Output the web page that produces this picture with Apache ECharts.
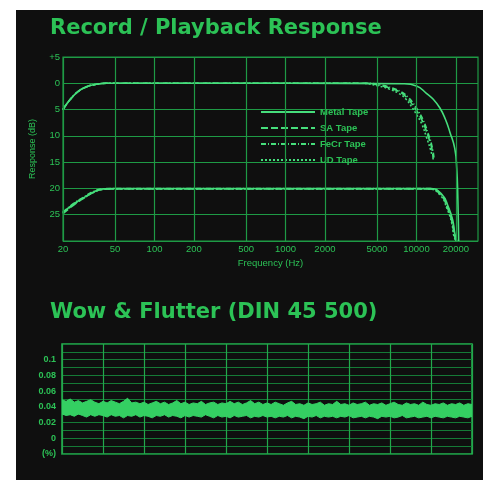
<!DOCTYPE html>
<html>
<head>
<meta charset="utf-8">
<title>Record / Playback Response</title>
<script src="https://cdn.jsdelivr.net/npm/echarts@6.0.0/dist/echarts.min.js"></script>
<style>
  html, body { margin: 0; padding: 0; background: #ffffff; }
  /* black card of the scanned page */
  #panel { position: absolute; left: 16px; top: 10px; width: 467px; height: 470px; background: #0f0f0f; }
  #chart { position: absolute; left: 0; top: 0; width: 483px; height: 480px; }
</style>
</head>
<body>
<div id="panel"></div>
<div id="chart"></div>
<script>
// frequency ticks of the response chart (Hz)
const freqTicks = [20, 50, 100, 200, 500, 1000, 2000, 5000, 10000, 20000];
const tapeNames = ["Metal Tape", "SA Tape", "FeCr Tape", "UD Tape"];

// 0 dB record level
const metalFreq = [20, 22.5, 26, 30, 36, 43, 60, 1000, 8000, 10000, 11900, 13500, 15100, 16600, 18000, 19600, 20300, 20700, 21000];
const metalDb = [-5, -3.2, -1.6, -0.7, -0.2, 0, 0, 0, -0.1, -0.5, -1.9, -3.1, -4.7, -6.8, -9.3, -12.4, -16.2, -22, -30];
const saFreq = [20, 22.5, 26, 30, 36, 43, 60, 1000, 4000, 5300, 6400, 7500, 8500, 9400, 10300, 11200, 12200, 13100, 13400];
const saDb = [-5, -3.2, -1.6, -0.7, -0.2, 0, 0, 0, 0, -0.4, -1.0, -1.7, -2.8, -4.2, -5.7, -7.4, -9.9, -12.4, -14.5];
const feCrFreq = [20, 22.5, 26, 30, 36, 43, 60, 1000, 4200, 5500, 6500, 7600, 8600, 9500, 10400, 11300, 12300, 13200, 13600];
const feCrDb = [-5, -3.2, -1.6, -0.7, -0.2, 0, 0, 0, 0, -0.4, -0.9, -1.6, -2.6, -3.9, -5.4, -7.1, -9.6, -12.2, -14.2];
const udFreq = [20, 22.5, 26, 30, 36, 43, 60, 1000, 3800, 5100, 6200, 7300, 8300, 9200, 10100, 11000, 11900, 12800, 13100];
const udDb = [-5, -3.2, -1.6, -0.7, -0.2, 0, 0, 0, 0, -0.5, -1.1, -1.9, -3.0, -4.5, -6.1, -7.8, -10.2, -12.6, -13.6];

// -20 dB record level
const metalLowFreq = [20, 24, 28.6, 34, 40, 48, 1000, 12700, 15600, 17500, 18900, 19600, 20300];
const metalLowDb = [-24.6, -23, -21.8, -20.7, -20.1, -20, -20, -20, -21.1, -23.5, -26, -28.5, -30];
const saLowFreq = [20, 24, 28.6, 34, 40, 48, 1000, 12500, 15400, 17300, 18700, 19400, 20100];
const saLowDb = [-24.8, -23.2, -21.9, -20.8, -20.2, -20.1, -20.1, -20.1, -21.3, -23.8, -26.4, -28.8, -30];
const feCrLowFreq = [20, 24, 28.6, 34, 40, 48, 1000, 12600, 15500, 17400, 18800, 19500, 20200];
const feCrLowDb = [-24.5, -22.9, -21.7, -20.6, -20.1, -20, -20, -20, -21.2, -23.6, -26.2, -28.6, -30];
const udLowFreq = [20, 24, 28.6, 34, 40, 48, 1000, 12400, 15300, 17200, 18600, 19300, 20000];
const udLowDb = [-24.7, -23.1, -21.9, -20.8, -20.2, -20.1, -20.1, -20.1, -21.4, -24.0, -26.6, -29.0, -30];

// wow & flutter trace, upper and lower edge of the band (%)
const flutterUpper = [
  0.049, 0.047, 0.050, 0.046, 0.048, 0.045, 0.047, 0.049, 0.046, 0.044,
  0.047, 0.045, 0.048, 0.046, 0.044, 0.047, 0.051, 0.045, 0.046, 0.044,
  0.046, 0.043, 0.045, 0.047, 0.044, 0.046, 0.043, 0.045, 0.048, 0.044,
  0.046, 0.043, 0.045, 0.044, 0.047, 0.043, 0.045, 0.046, 0.043, 0.045,
  0.044, 0.047, 0.044, 0.046, 0.043, 0.045, 0.048, 0.044, 0.046, 0.043,
  0.045, 0.043, 0.046, 0.044, 0.042, 0.045, 0.047, 0.043, 0.044, 0.042,
  0.045, 0.043, 0.044, 0.046, 0.042, 0.044, 0.043, 0.047, 0.043, 0.044,
  0.042, 0.045, 0.043, 0.044, 0.046, 0.042, 0.044, 0.043, 0.045, 0.042,
  0.044, 0.046, 0.043, 0.042, 0.045, 0.043, 0.044, 0.042, 0.046, 0.043,
  0.042, 0.044, 0.043, 0.045, 0.042, 0.044, 0.043, 0.045, 0.042, 0.044, 0.043
];
const flutterLower = [
  0.031, 0.029, 0.030, 0.028, 0.031, 0.029, 0.027, 0.030, 0.028, 0.030,
  0.029, 0.027, 0.030, 0.028, 0.029, 0.026, 0.029, 0.028, 0.030, 0.027,
  0.029, 0.028, 0.026, 0.029, 0.028, 0.030, 0.027, 0.029, 0.028, 0.026,
  0.029, 0.027, 0.029, 0.028, 0.027, 0.030, 0.028, 0.026, 0.029, 0.027,
  0.028, 0.026, 0.029, 0.027, 0.028, 0.029, 0.026, 0.028, 0.027, 0.029,
  0.027, 0.028, 0.026, 0.028, 0.027, 0.029, 0.026, 0.028, 0.027, 0.025,
  0.028, 0.027, 0.029, 0.026, 0.028, 0.027, 0.028, 0.026, 0.028, 0.027,
  0.029, 0.026, 0.027, 0.028, 0.026, 0.028, 0.027, 0.025, 0.028, 0.027,
  0.028, 0.026, 0.027, 0.029, 0.026, 0.027, 0.028, 0.026, 0.027, 0.028,
  0.026, 0.028, 0.027, 0.026, 0.028, 0.027, 0.026, 0.028, 0.027, 0.026, 0.028
];

const textGreen = "#2cc256";
const gridGreen = "#1e9a45";
const curveGreen = "#46de7c";
const labelFont = "Liberation Sans";

function pairs(xs, ys) {
  return xs.map((x, i) => [x, ys[i]]);
}

function tapeSeries(name, freq, db, dash) {
  return {
    name: name,
    type: "line",
    xAxisIndex: 0,
    yAxisIndex: 0,
    symbol: "none",
    smooth: true,
    lineStyle: { color: curveGreen, width: 1.6, type: dash },
    itemStyle: { color: curveGreen },
    data: pairs(freq, db),
  };
}

const chart = echarts.init(document.getElementById("chart"));

const option = {
  animation: false,
  backgroundColor: "transparent",
  title: [
    {
      text: "Record / Playback Response",
      left: 50,
      top: 18,
      padding: 0,
      textStyle: { color: textGreen, fontFamily: "DejaVu Sans", fontWeight: "bold", fontSize: 21 },
    },
    {
      text: "Wow & Flutter (DIN 45 500)",
      left: 50,
      top: 302,
      padding: 0,
      textStyle: { color: textGreen, fontFamily: "DejaVu Sans", fontWeight: "bold", fontSize: 21 },
    },
  ],
  legend: {
    data: tapeNames,
    orient: "vertical",
    left: 260,
    top: 107,
    padding: 0,
    itemWidth: 54,
    itemHeight: 10,
    itemGap: 6,
    // line only in the key, no marker dot
    itemStyle: { color: "rgba(0,0,0,0)", borderColor: "rgba(0,0,0,0)", borderWidth: 0 },
    textStyle: { color: textGreen, fontFamily: labelFont, fontWeight: "bold", fontSize: 9.5 },
  },
  grid: [
    {
      left: 63, right: 5, top: 57, bottom: 239,
      show: true, borderColor: gridGreen, borderWidth: 1.2,
      outerBoundsMode: "none",
    },
    {
      left: 62, right: 11, top: 344, bottom: 26,
      show: true, borderColor: "#27b451", borderWidth: 1.5,
      outerBoundsMode: "none",
    },
  ],
  xAxis: [
    {
      type: "log",
      logBase: 10,
      gridIndex: 0,
      min: 20,
      max: 29500,
      name: "Frequency (Hz)",
      nameLocation: "middle",
      nameGap: 17,
      nameTextStyle: { color: textGreen, fontFamily: labelFont, fontSize: 9.5 },
      axisLine: { show: false },
      axisTick: { show: false },
      axisLabel: { show: false },
      splitLine: { show: false },
    },
    {
      type: "category",
      gridIndex: 1,
      boundaryGap: false,
      data: flutterUpper.map((v, i) => i),
      axisLine: { show: false },
      axisTick: { show: false },
      axisLabel: { show: false },
      splitLine: { show: true, interval: 9, lineStyle: { color: "#22a84c", width: 1.2 } },
    },
  ],
  yAxis: [
    {
      type: "value",
      gridIndex: 0,
      min: -30,
      max: 5,
      interval: 5,
      name: "Response (dB)",
      nameLocation: "middle",
      nameRotate: 90,
      nameGap: 26,
      nameTextStyle: { color: textGreen, fontFamily: labelFont, fontSize: 9 },
      axisLine: { show: false },
      axisTick: { show: false },
      axisLabel: {
        color: textGreen,
        fontFamily: labelFont,
        fontSize: 9.5,
        margin: 3,
        formatter: (v) => (v === 5 ? "+5" : v === -30 ? "" : String(Math.abs(v))),
      },
      splitLine: { show: true, lineStyle: { color: gridGreen, width: 1.2 } },
    },
    {
      type: "value",
      gridIndex: 1,
      min: -0.02,
      max: 0.12,
      interval: 0.01,
      axisLine: { show: false },
      axisTick: { show: false },
      axisLabel: {
        color: textGreen,
        fontFamily: labelFont,
        fontWeight: "bold",
        fontSize: 9,
        margin: 6,
        formatter: (v) => {
          const k = Math.round(v * 100);
          if (k === -2) return "(%)";
          if (k < 0 || k > 10 || k % 2 !== 0) return "";
          if (k === 0) return "0";
          if (k === 10) return "0.1";
          return (k / 100).toFixed(2);
        },
      },
      splitLine: { show: true, lineStyle: { color: "#157a36", width: 1 } },
    },
  ],
  series: [
    // vertical grid lines and frequency labels
    {
      name: "freq grid",
      type: "line",
      xAxisIndex: 0,
      yAxisIndex: 0,
      data: [],
      markLine: {
        silent: true,
        symbol: ["none", "none"],
        lineStyle: { color: gridGreen, width: 1.2, type: "solid" },
        label: {
          show: true,
          position: "start",
          distance: 3,
          color: textGreen,
          fontFamily: labelFont,
          fontSize: 9.5,
          formatter: (p) => String(Math.round(p.value)),
        },
        emphasis: { disabled: true },
        data: freqTicks.map((f) => ({ xAxis: f })),
      },
    },
    tapeSeries("Metal Tape", metalFreq, metalDb, "solid"),
    tapeSeries("SA Tape", saFreq, saDb, [7, 3]),
    tapeSeries("FeCr Tape", feCrFreq, feCrDb, [5, 2, 1, 2]),
    tapeSeries("UD Tape", udFreq, udDb, [2, 2]),
    tapeSeries("Metal Tape", metalLowFreq, metalLowDb, "solid"),
    tapeSeries("SA Tape", saLowFreq, saLowDb, [7, 3]),
    tapeSeries("FeCr Tape", feCrLowFreq, feCrLowDb, [5, 2, 1, 2]),
    tapeSeries("UD Tape", udLowFreq, udLowDb, [2, 2]),
    // wow & flutter band
    {
      name: "flutter base",
      type: "line",
      xAxisIndex: 1,
      yAxisIndex: 1,
      stack: "flutter",
      symbol: "none",
      lineStyle: { color: "#36d466", width: 1 },
      data: flutterLower,
    },
    {
      name: "flutter band",
      type: "line",
      xAxisIndex: 1,
      yAxisIndex: 1,
      stack: "flutter",
      symbol: "none",
      lineStyle: { color: "#36d466", width: 1 },
      areaStyle: { color: "#34cf62", opacity: 1 },
      data: flutterUpper.map((v, i) => +(v - flutterLower[i]).toFixed(3)),
    },
  ],
};

chart.setOption(option);
</script>
</body>
</html>
